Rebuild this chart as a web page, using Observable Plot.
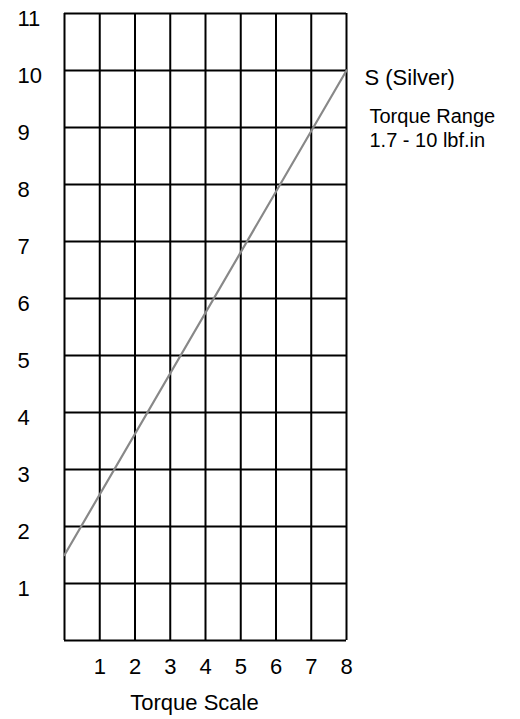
<!DOCTYPE html>
<html>
<head>
<meta charset="utf-8">
<script src="https://cdn.jsdelivr.net/npm/d3@7"></script>
<script src="https://cdn.jsdelivr.net/npm/@observablehq/plot@0.6"></script>
<style>
  html, body { margin: 0; padding: 0; background: #fff; }
</style>
</head>
<body>
<div id="chart"></div>
<script>
const xGrid = [0, 1, 2, 3, 4, 5, 6, 7, 8];
const yGrid = [0, 1, 2, 3, 4, 5, 6, 7, 8, 9, 10, 11];
const xTicks = [1, 2, 3, 4, 5, 6, 7, 8];
const yTicks = [1, 2, 3, 4, 5, 6, 7, 8, 9, 10, 11];
const lineScale = [0, 8];
const lineTorque = [1.5, 10];
const seriesName = "S (Silver)";
const rangeTitle = "Torque Range";
const rangeValue = "1.7 - 10 lbf.in";
const xTitle = "Torque Scale";

const lineData = lineScale.map((x, i) => ({x, y: lineTorque[i]}));
const font = "Liberation Sans, Arial, Helvetica, sans-serif";

const chart = Plot.plot({
  width: 520,
  height: 719,
  marginLeft: 64,
  marginRight: 174,
  marginTop: 13,
  marginBottom: 79,
  x: {domain: [0, 8], axis: null},
  y: {domain: [0, 11], axis: null},
  style: {fontFamily: font, background: "#fff", color: "#000"},
  marks: [
    Plot.ruleX(xGrid, {x: d => d, stroke: "#000", strokeWidth: 2}),
    Plot.ruleY(yGrid, {y: d => d, stroke: "#000", strokeWidth: 2}),
    Plot.line(lineData, {x: "x", y: "y", stroke: "#888", strokeWidth: 2.2}),
    Plot.text(yTicks, {x: 0, y: d => d, text: d => String(d), dx: -47, dy: 5, textAnchor: "start", fontSize: 22, fill: "#000"}),
    Plot.text(xTicks, {x: d => d, y: 0, text: d => String(d), dy: 26, fontSize: 22, fill: "#000"}),
    Plot.text([xTitle], {x: 4, y: 0, text: d => d, dx: -11, dy: 62, fontSize: 22, fill: "#000"}),
    Plot.text([seriesName], {x: 8, y: 10, text: d => d, dx: 18, dy: 7, textAnchor: "start", fontSize: 22, fill: "#000"}),
    Plot.text([rangeTitle], {x: 8, y: 10, text: d => d, dx: 23, dy: 46, textAnchor: "start", fontSize: 20, fill: "#000"}),
    Plot.text([rangeValue], {x: 8, y: 10, text: d => d, dx: 23, dy: 70, textAnchor: "start", fontSize: 20, fill: "#000"})
  ]
});
document.getElementById("chart").appendChild(chart);
</script>
</body>
</html>
